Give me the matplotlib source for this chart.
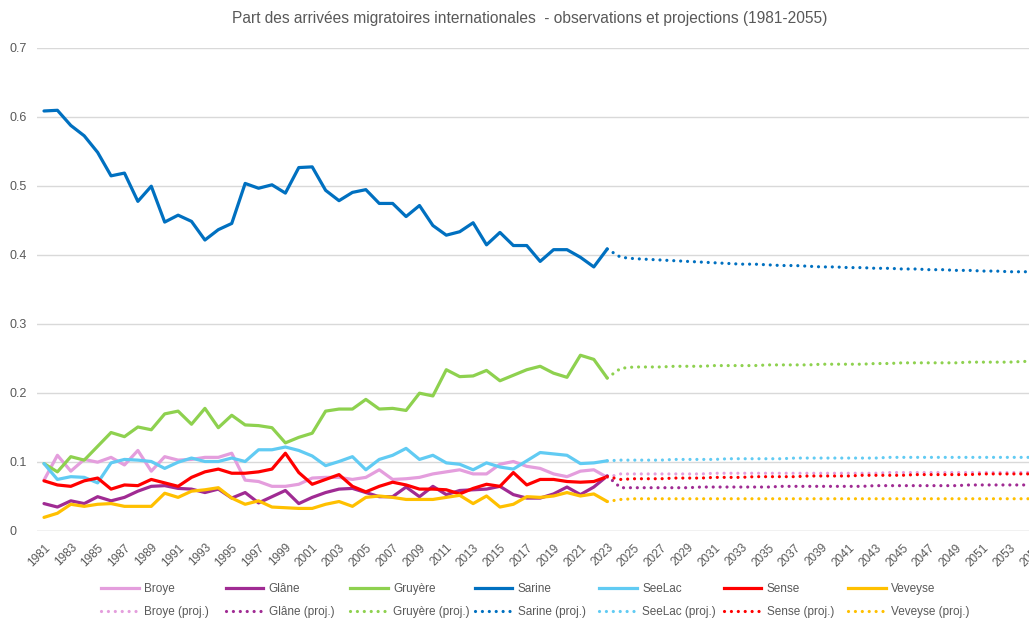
import matplotlib
matplotlib.use("Agg")
import matplotlib.pyplot as plt
from matplotlib.lines import Line2D
from matplotlib import font_manager

obs_years = list(range(1981, 2024))
proj_years = list(range(2023, 2056))
tick_years = list(range(1981, 2056, 2))

broye = [0.073,0.109,0.086,0.103,0.099,0.106,0.095,0.116,0.086,0.107,
         0.102,0.103,0.106,0.106,0.112,0.073,0.071,0.064,0.064,0.067,
         0.076,0.077,0.077,0.074,0.077,0.088,0.074,0.075,0.077,0.082,
         0.085,0.088,0.082,0.082,0.096,0.100,0.093,0.090,0.082,0.078,
         0.086,0.088,0.077]
glane = [0.039,0.034,0.043,0.039,0.049,0.043,0.048,0.057,0.064,0.065,
         0.061,0.060,0.055,0.060,0.047,0.055,0.040,0.049,0.058,0.039,
         0.048,0.055,0.060,0.061,0.055,0.049,0.049,0.063,0.049,0.064,
         0.052,0.058,0.059,0.060,0.064,0.052,0.047,0.047,0.053,0.063,
         0.052,0.063,0.079]
gruyere = [0.097,0.085,0.107,0.102,0.122,0.142,0.136,0.150,0.146,0.169,
           0.173,0.154,0.177,0.149,0.167,0.153,0.152,0.149,0.127,0.135,
           0.141,0.173,0.176,0.176,0.190,0.176,0.177,0.174,0.199,0.195,
           0.233,0.223,0.224,0.232,0.217,0.225,0.233,0.238,0.228,0.222,
           0.254,0.248,0.221]
sarine = [0.608,0.609,0.587,0.572,0.548,0.514,0.518,0.477,0.499,0.447,
          0.457,0.448,0.421,0.436,0.445,0.503,0.496,0.501,0.489,0.526,
          0.527,0.493,0.478,0.490,0.494,0.474,0.474,0.455,0.471,0.442,
          0.428,0.433,0.446,0.414,0.432,0.413,0.413,0.390,0.407,0.407,
          0.396,0.382,0.408]
seelac = [0.097,0.074,0.078,0.077,0.069,0.098,0.103,0.102,0.100,0.090,
          0.099,0.105,0.100,0.100,0.105,0.100,0.117,0.117,0.121,0.116,
          0.108,0.094,0.100,0.107,0.088,0.103,0.109,0.119,0.103,0.109,
          0.098,0.096,0.088,0.098,0.092,0.089,0.101,0.113,0.111,0.109,
          0.097,0.098,0.101]
sense = [0.072,0.066,0.064,0.072,0.076,0.060,0.066,0.065,0.074,0.069,
         0.064,0.077,0.085,0.089,0.083,0.083,0.085,0.089,0.112,0.084,
         0.067,0.074,0.081,0.064,0.056,0.064,0.070,0.066,0.060,0.060,
         0.059,0.053,0.061,0.067,0.064,0.084,0.066,0.074,0.074,0.071,
         0.070,0.071,0.078]
veveyse = [0.019,0.025,0.038,0.035,0.038,0.039,0.035,0.035,0.035,0.054,
           0.048,0.057,0.059,0.062,0.047,0.038,0.043,0.034,0.033,0.032,
           0.032,0.038,0.042,0.035,0.048,0.050,0.048,0.045,0.045,0.045,
           0.048,0.051,0.039,0.050,0.034,0.038,0.049,0.048,0.050,0.055,
           0.050,0.053,0.042]

broye_p = [0.077,0.082,0.082,0.082,0.082,0.082,0.082,0.082,0.083,0.083,
           0.083,0.083,0.083,0.083,0.083,0.083,0.083,0.083,0.083,0.083,
           0.083,0.084,0.084,0.084,0.084,0.084,0.084,0.084,0.084,0.084,
           0.084,0.084,0.084]
glane_p = [0.079,0.062,0.062,0.062,0.062,0.062,0.062,0.063,0.063,0.063,
           0.063,0.063,0.063,0.064,0.064,0.064,0.064,0.064,0.064,0.064,
           0.065,0.065,0.065,0.065,0.065,0.065,0.065,0.066,0.066,0.066,
           0.066,0.066,0.066]
gruyere_p = [0.221,0.235,0.237,0.237,0.237,0.238,0.238,0.238,0.239,0.239,
             0.239,0.239,0.240,0.240,0.240,0.240,0.241,0.241,0.241,0.241,
             0.242,0.242,0.243,0.243,0.243,0.243,0.243,0.244,0.244,0.244,
             0.244,0.245,0.245]
sarine_p = [0.408,0.396,0.394,0.393,0.392,0.391,0.390,0.389,0.388,0.387,
            0.386,0.386,0.385,0.384,0.384,0.383,0.382,0.382,0.381,0.381,
            0.380,0.380,0.379,0.379,0.378,0.378,0.377,0.377,0.376,0.376,
            0.375,0.375,0.375]
seelac_p = [0.101,0.102,0.102,0.102,0.102,0.103,0.103,0.103,0.103,0.104,
            0.104,0.104,0.104,0.104,0.105,0.105,0.105,0.105,0.105,0.105,
            0.105,0.106,0.106,0.106,0.106,0.106,0.106,0.106,0.106,0.106,
            0.106,0.106,0.106]
sense_p = [0.078,0.074,0.075,0.075,0.075,0.076,0.076,0.076,0.077,0.077,
           0.077,0.078,0.078,0.078,0.078,0.079,0.079,0.079,0.079,0.080,
           0.080,0.080,0.080,0.081,0.081,0.081,0.081,0.081,0.082,0.082,
           0.082,0.082,0.082]
veveyse_p = [0.042,0.045,0.046,0.046,0.046,0.046,0.046,0.046,0.046,0.046,
             0.046,0.046,0.046,0.046,0.046,0.046,0.046,0.046,0.046,0.046,
             0.046,0.046,0.046,0.046,0.046,0.046,0.046,0.046,0.046,0.046,
             0.046,0.046,0.046]

names = ["Broye", "Glâne", "Gruyère", "Sarine", "SeeLac", "Sense", "Veveyse"]
colors = ["#E49EDD", "#A02B93", "#8ED14F", "#0070C0", "#61CBF3", "#FF0000", "#FFC000"]
obs = [broye, glane, gruyere, sarine, seelac, sense, veveyse]
proj = [broye_p, glane_p, gruyere_p, sarine_p, seelac_p, sense_p, veveyse_p]

avail = {f.name for f in font_manager.fontManager.ttflist}
narrow = "Liberation Sans Narrow" if "Liberation Sans Narrow" in avail else "Liberation Sans"
txt = "#595959"

W, H = 1029, 623
fig = plt.figure(figsize=(W / 100, H / 100), dpi=100)
step = 13.41
left_px = 44 - step / 2
ax = fig.add_axes([left_px / W, (H - 530.5) / H, 75 * step / W, 483 / H])

lw = 2.3
for name, c, o in zip(names, colors, obs):
    ax.plot(obs_years, o, color=c, lw=lw, solid_joinstyle="round", solid_capstyle="round", zorder=3)
for name, c, p in zip(names, colors, proj):
    ax.plot(proj_years, p, color=c, lw=lw, linestyle=(0, (0.01, 2.15)),
            dash_capstyle="round", zorder=3)

ax.set_xlim(1980.5, 2055.5)
ax.set_ylim(0, 0.7)
ax.set_yticks([0, 0.1, 0.2, 0.3, 0.4, 0.5, 0.6, 0.7])
ax.set_yticklabels(["0", "0.1", "0.2", "0.3", "0.4", "0.5", "0.6", "0.7"])
ax.grid(axis="y", color="#D9D9D9", lw=1.0)
ax.set_axisbelow(True)
for s in ax.spines.values():
    s.set_visible(False)
ax.axhline(0, color="#D9D9D9", lw=1.0, zorder=1)
ax.tick_params(axis="y", length=0, pad=20, labelsize=9, labelcolor=txt)
for lab in ax.get_yticklabels():
    lab.set_horizontalalignment("left")
    lab.set_fontfamily("Liberation Sans")
ax.set_xticks(tick_years)
ax.set_xticklabels([str(y) for y in tick_years], rotation=45, ha="right",
                   rotation_mode="anchor", fontsize=8.5, color=txt, family=narrow)
ax.tick_params(axis="x", length=0, pad=8)

fig.text(530 / W, 1 - 18 / H,
         "Part des arrivées migratoires internationales  - observations et projections (1981-2055)",
         ha="center", va="center", fontsize=11.2, color=txt, family="Liberation Sans")

col_x0 = 101
col_dx = 124.5
for j, (name, c) in enumerate(zip(names, colors)):
    hs = [Line2D([], [], color=c, lw=lw),
          Line2D([], [], color=c, lw=lw, linestyle=(0, (0.01, 2.15)), dash_capstyle="round")]
    leg = fig.legend(handles=hs, labels=[name, name + " (proj.)"], loc="upper left",
                     bbox_to_anchor=((col_x0 + j * col_dx) / W, 1 - 583 / H),
                     frameon=False, handlelength=3.2, handletextpad=0.45,
                     labelspacing=0.95, borderaxespad=0, borderpad=0,
                     prop={"family": narrow, "size": 8.5})
    for t in leg.get_texts():
        t.set_color(txt)

fig.savefig("out.png", dpi=100)
